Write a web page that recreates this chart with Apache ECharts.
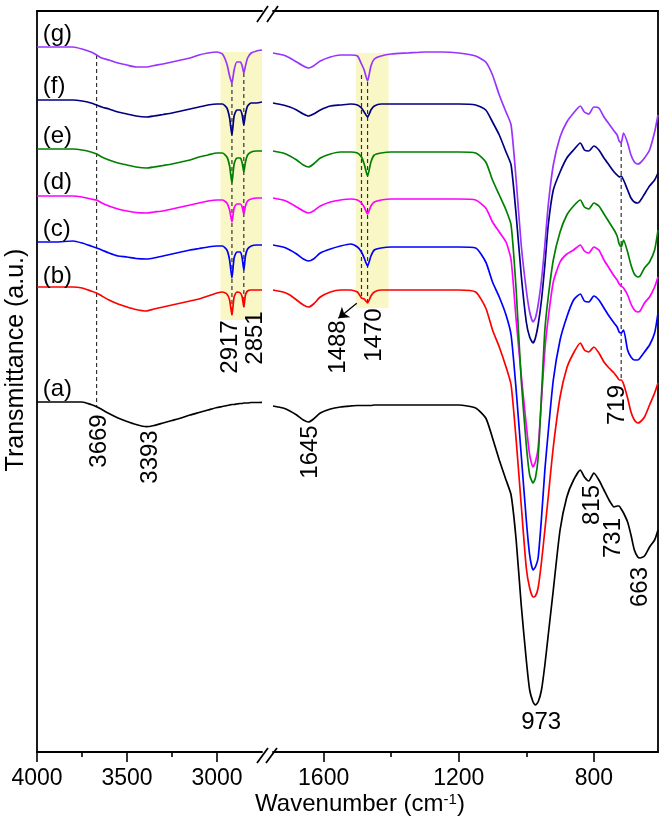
<!DOCTYPE html>
<html><head><meta charset="utf-8">
<script src="https://cdn.jsdelivr.net/npm/echarts@6/dist/echarts.min.js"></script>
<style>html,body{margin:0;padding:0;background:#fff}#c{width:661px;height:830px}</style>
</head><body><div id="c"></div>
<script>
// ---- data (wavenumbers in cm-1, transmittance in arbitrary offset units) ----
const wnLeft = [4000,3900,3800,3750,3700,3669,3640,3600,3550,3500,3450,3393,3350,3300,3250,3200,3150,3100,3050,3000,2970,2945,2930,2917,2905,2890,2870,2860,2851,2842,2830,2810,2780,2750];
const wnRight = [1750,1720,1700,1680,1660,1645,1630,1610,1580,1550,1520,1500,1488,1480,1470,1460,1450,1430,1400,1350,1300,1250,1200,1150,1120,1100,1080,1060,1045,1030,1015,1000,990,980,973,965,955,945,935,920,900,880,860,840,828,815,800,785,770,755,740,731,725,719,712,700,690,680,670,663,650,635,620,610];

const aLeft = [350,350,350,350,347.5,345.3,342.5,338.5,334,330.5,327.5,325.3,326.5,329,331.5,334,337,339.5,342,344.5,345.5,346.5,347,347.5,347.5,348,348.5,348.5,349,349,349,349.5,349.5,349.7];
const aRight = [346,344,341,337,332,330,333,339,343,345,346,346.5,346.5,346.5,346.5,346.5,347,347,347,347,347,347,347,344,334,314,292,272,257,212,147,92,62,50,47,50,62,87,117,162,222,255,272,282,275,271,279,272,262,252,245,246,246,243,239,230,217,202,195,194,196,205,212,222];

const bLeft = [465,465,465,464,461,459,456,452,448,445,442.5,441,443,445,447,449,451,453,456,459,460,458,452,437,455,460,459,455,445,457,461,462,462,462];
const bRight = [462,460,457,452,447,445,448,455,460,462,462,460,454,453,449,456,460,462,462,462,462,462,462,460,444,422,405,385,367,312,247,184,164,155,156,164,190,222,255,305,355,384,399,409,402,400,405,399,390,384,379,375,372,372,368,354,340,332,329,330,335,347,359,369];

const cLeft = [510,510,511,509,506,504,502,499,496,495,493.5,493,494,496,498,500,502,503.5,505,506,506,502,492,474,494,500,500,494,482,496,503,506,507,507];
const cRight = [507,505,502,498,493,491,493,499,503,506,508,505,500,494,486,496,502,504,505,505,505,505,505,504,490,470,455,437,417,362,297,232,197,182,185,194,234,282,320,372,412,435,452,458,451,450,456,452,444,436,429,425,420,419,422,402,395,392,392,394,400,407,419,439];

const dLeft = [556,556,556,555,553,552,549,546,543,541,539.5,539,540,541,543,545,547,549,551,552,552,549,542,530,544,548,548,545,538,546,551,553,554,554];
const dRight = [554,552,549,545,541,539,541,546,550,552,553,552,549,545,538,546,550,552,553,553,553,553,553,552,544,530,520,510,492,432,377,327,297,285,290,304,352,402,434,470,490,498,502,507,501,499,505,502,492,484,476,472,468,466,464,457,448,442,440,441,449,455,465,475];

const eLeft = [603,603,603,602,600,598,595,592,589,587,585,584,585,586.5,588,590,592,595,597,599,599,595,586,569,588,594,594,589,580,590,597,600,601,601];
const eRight = [601,599,596,592,587,585,588,594,598,600,600,599,595,588,576,590,597,599,600,600,600,600,600,599,590,572,557,542,527,462,372,307,277,269,274,294,357,422,455,492,520,537,546,552,545,543,549,546,538,530,522,516,508,505,512,500,487,478,475,476,484,490,502,522];

const fLeft = [652,652,652,651,649,647,645,643,640,638,636,635,636,637.5,639,641,643,645,647,648,648,644,634,617,636,642,642,637,627,638,646,649,649,650];
const fRight = [649,647,645,642,638,636,638,642,646,647,648,647,644,640,635,642,646,648,648,648,648,648,648,647,642,630,617,600,587,537,477,430,415,409,414,427,452,487,527,562,580,594,602,609,602,601,606,602,594,587,580,577,575,576,572,562,554,550,549,551,558,566,572,579];

const gLeft = [705,705,705,703,700,697,694,692,689,687,685,685,686.5,688,690,692,694,697,699,700,698,688,676,669,682,690,690,686,679,686,694,699,701,702];
const gRight = [699,697,694,690,686,684,686,691,695,697,697,696,688,682,671,686,693,696,698,699,700,700,699,696,690,677,657,640,627,572,507,462,440,430,434,447,472,507,547,587,615,630,639,646,640,638,645,644,635,628,621,617,611,609,619,609,597,590,588,589,594,602,620,637];

const sampleNames = ['(a)','(b)','(c)','(d)','(e)','(f)','(g)'];
const sampleLabelLevel = [363,476,523,570,616,666,718];

const xTicksLeft = [4000,3500,3000];
const xMinorLeft = [3750,3250];
const xTicksRight = [1600,1200,800];
const xMinorRight = [1400,1000];

const peakTextLeft = [['3669',3652,311],['3393',3368,295],['2917',2924,405],['2851',2785,414]];
const peakTextRight = [['1645',1640,300],['1488',1557,405],['1470',1451,417],['719',731,347],['815',805,247],['731',743,214],['663',663,165]];
const peakTextFlat = [['973',956,30]];
const dashedLeft = [[3669,697,345],[2917,669,437],[2851,679,445]];
const dashedRight = [[1488,677,454],[1470,670,450],[719,609,372]];
const bandsLeft = [[2981,2750,700,432]];
const bandsRight = [[1505,1408,699,444]];
const arrow1488 = [[1502,448.7],[1556.5,433.7]];

// ---- chart ----
const FONT = 'Liberation Sans, Arial, Helvetica, sans-serif';
const COLORS = ['#000000','#ff0000','#0000ff','#ff00ff','#008000','#000080','#9933ff'];
const spectra = [[aLeft,aRight],[bLeft,bRight],[cLeft,cRight],[dLeft,dRight],[eLeft,eRight],[fLeft,fRight],[gLeft,gRight]];
const zip = (xs, ys) => xs.map((x,i)=>[x, ys[i]]);

const GL = {left:37, top:11, width:225, height:741};
const GR = {left:273, top:11, width:385, height:741};

function xAxisDef(grid, min, max, pos, ticks, tickLen, showLabel, showLine){
  return {
    gridIndex: grid, type:'value', min:min, max:max, inverse:true, position:pos,
    axisLine:{show:showLine, onZero:false, lineStyle:{color:'#000', width:1.8}},
    axisTick:{show: ticks.length>0, customValues: ticks, length: tickLen, inside:false, lineStyle:{color:'#000', width:1.6}},
    axisLabel:{show: showLabel, customValues: ticks, fontSize:23, color:'#000', fontFamily:FONT, margin:15,
      formatter: v => String(v)},
    splitLine:{show:false}
  };
}

const xAxes = [
  xAxisDef(0, 2750, 4000, 'bottom', xTicksLeft, 10, true, true),
  xAxisDef(0, 2750, 4000, 'bottom', xMinorLeft, 5, false, false),
  xAxisDef(0, 2750, 4000, 'top', [], 0, false, true),
  xAxisDef(1, 610, 1750, 'bottom', xTicksRight, 10, true, true),
  xAxisDef(1, 610, 1750, 'bottom', xMinorRight, 5, false, false),
  xAxisDef(1, 610, 1750, 'top', [], 0, false, true)
];
const yAxes = [0,1].map(g => ({
  gridIndex:g, type:'value', min:0, max:741, position: g===0 ? 'left' : 'right',
  axisLine:{show:true, onZero:false, lineStyle:{color:'#000', width:1.8}},
  axisTick:{show:false}, axisLabel:{show:false}, splitLine:{show:false}
}));

const series = [];
// highlight bands
series.push({type:'line', xAxisIndex:0, yAxisIndex:0, data:[], z:1, silent:true,
  markArea:{silent:true, itemStyle:{color:'#f9f7c6'}, data: bandsLeft.map(b=>[{coord:[b[0],b[2]]},{coord:[b[1],b[3]]}])}});
series.push({type:'line', xAxisIndex:3, yAxisIndex:1, data:[], z:1, silent:true,
  markArea:{silent:true, itemStyle:{color:'#f9f7c6'}, data: bandsRight.map(b=>[{coord:[b[0],b[2]]},{coord:[b[1],b[3]]}])}});

// dashed marker lines
dashedLeft.forEach(d => series.push({type:'line', xAxisIndex:0, yAxisIndex:0, data:[[d[0],d[1]],[d[0],d[2]]],
  symbol:'none', silent:true, z:3, lineStyle:{color:'#333', width:1.2, type:[4,3]}}));
dashedRight.forEach(d => series.push({type:'line', xAxisIndex:3, yAxisIndex:1, data:[[d[0],d[1]],[d[0],d[2]]],
  symbol:'none', silent:true, z:3, lineStyle:{color:'#333', width:1.2, type:[4,3]}}));

// spectra
spectra.forEach((s, i) => {
  series.push({name:sampleNames[i], type:'line', xAxisIndex:0, yAxisIndex:0, data: zip(wnLeft, s[0]),
    symbol:'none', smooth:0.2, silent:true, z:4, lineStyle:{color:COLORS[i], width:1.7}});
  series.push({name:sampleNames[i], type:'line', xAxisIndex:3, yAxisIndex:1, data: zip(wnRight, s[1]),
    symbol:'none', smooth:0.2, silent:true, z:4, lineStyle:{color:COLORS[i], width:1.7}});
});

// arrow
series.push({type:'line', xAxisIndex:3, yAxisIndex:1, data:[], z:7, silent:true,
  markLine:{silent:true, symbol:['none','arrow'], symbolSize:10, label:{show:false},
    itemStyle:{color:'#000'},
    lineStyle:{color:'#000', width:1.3, type:'solid', opacity:1},
    emphasis:{disabled:true},
    data:[[{coord:arrow1488[0]},{coord:arrow1488[1]}]]}});

// text labels
const labelStyle = {show:true, position:'inside', fontSize:24, color:'#000', opacity:1, textBorderWidth:0,
  textBorderColor:'transparent', fontFamily:FONT, formatter:'{b}'};
function textSeries(axisX, axisY, items, extra){
  return {type:'scatter', xAxisIndex:axisX, yAxisIndex:axisY, symbolSize:1, silent:true, z:6,
    itemStyle:{color:'rgba(0,0,0,0)'}, emphasis:{disabled:true},
    data: items, label:Object.assign({}, labelStyle, extra)};
}
series.push(textSeries(0, 0, peakTextLeft.map(p=>({name:p[0], value:[p[1],p[2]]})), {rotate:90}));
series.push(textSeries(3, 1, peakTextRight.map(p=>({name:p[0], value:[p[1],p[2]]})), {rotate:90}));
series.push(textSeries(3, 1, peakTextFlat.map(p=>({name:p[0], value:[p[1],p[2]]})), {}));
series.push(textSeries(0, 0, sampleNames.map((n,i)=>({name:n, value:[3968, sampleLabelLevel[i]]})), {align:'left'}));

const slash = (x1,y1,x2,y2) => ({type:'line', shape:{x1,y1,x2,y2}, style:{stroke:'#000', lineWidth:1.8}, silent:true, z:10});

const chart = echarts.init(document.getElementById('c'), null, {renderer:'canvas'});
chart.setOption({
  animation:false,
  backgroundColor:'#fff',
  textStyle:{fontFamily:FONT},
  grid:[GL, GR],
  xAxis:xAxes,
  yAxis:yAxes,
  series:series,
  graphic:[
    {type:'text', x:360, y:804, silent:true, style:{text:'Wavenumber (cm{sup|-1})', fontSize:24, fontFamily:FONT, fill:'#000',
      align:'center', verticalAlign:'middle', rich:{sup:{fontSize:15, fontFamily:FONT, verticalAlign:'top', fill:'#000'}}}},
    {type:'text', x:16, y:360, rotation:Math.PI/2, silent:true, style:{text:'Transmittance (a.u.)', fontSize:25, fontFamily:FONT, fill:'#000',
      align:'center', verticalAlign:'middle'}},
    {type:'rect', shape:{x:263, y:740, width:9, height:24}, style:{fill:'#fff'}, z:9, silent:true},
    slash(257,763,268,748), slash(266,763,277,748),
    slash(257,22,268,6), slash(267,22,278,6)
  ]
});
</script>
</body></html>
